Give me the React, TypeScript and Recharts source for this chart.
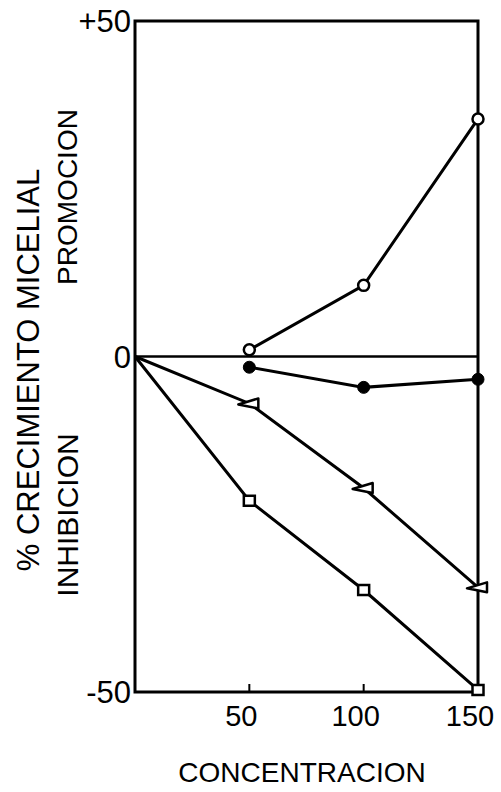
import React from 'react';
import { LineChart, Line, XAxis, YAxis, ReferenceLine, ReferenceArea, Label } from 'recharts';

const concentrations = [0, 50, 100, 150];
const openCircleSeries = [null, 1.0, 10.6, 35.4];
const filledCircleSeries = [null, -1.6, -4.6, -3.4];
const triangleSeries = [0, -7.0, -19.6, -34.4];
const squareSeries = [0, -21.5, -34.8, -49.7];
const xTicks = [50, 100, 150];
const yTicks = [-50, 0, 50];

const FONT = '"Liberation Sans", Arial, sans-serif';

const data = concentrations.map((c, i) => ({
  c,
  open: openCircleSeries[i],
  filled: filledCircleSeries[i],
  tri: triangleSeries[i],
  sq: squareSeries[i],
}));

const OpenCircle = (props: any) => {
  const { cx, cy, index } = props;
  if (cx == null || cy == null || props.value == null) return <g key={`oc-${index}`} />;
  return <circle key={`oc-${index}`} cx={cx} cy={cy} r={5.5} fill="#fff" stroke="#000" strokeWidth={2.5} />;
};

const FilledCircle = (props: any) => {
  const { cx, cy, index } = props;
  if (cx == null || cy == null || props.value == null) return <g key={`fc-${index}`} />;
  return <circle key={`fc-${index}`} cx={cx} cy={cy} r={6} fill="#000" stroke="#000" strokeWidth={1} />;
};

const Triangle = (props: any) => {
  const { cx, cy, index, payload } = props;
  if (cx == null || cy == null || !payload || payload.c === 0) return <g key={`tr-${index}`} />;
  return (
    <polygon
      key={`tr-${index}`}
      points={`${cx - 11},${cy + 1} ${cx + 9},${cy - 5} ${cx + 9},${cy + 5}`}
      fill="#fff"
      stroke="#000"
      strokeWidth={2.5}
      strokeLinejoin="round"
    />
  );
};

const Square = (props: any) => {
  const { cx, cy, index, payload } = props;
  if (cx == null || cy == null || !payload || payload.c === 0) return <g key={`sq-${index}`} />;
  return <rect key={`sq-${index}`} x={cx - 5.5} y={cy - 5} width={11} height={10} fill="#fff" stroke="#000" strokeWidth={2.5} />;
};

const renderYLabel = () => (
  <g fontFamily={FONT} fill="#000">
    <text x={28} y={370} transform="rotate(-90 28 370)" textAnchor="middle" dominantBaseline="central" fontSize={31} fill="#000">
      % CRECIMIENTO MICELIAL
    </text>
    <text x={67} y={197} transform="rotate(-90 67 197)" textAnchor="middle" dominantBaseline="central" fontSize={28} fill="#000">
      PROMOCION
    </text>
    <text x={67} y={515} transform="rotate(-90 67 515)" textAnchor="middle" dominantBaseline="central" fontSize={30} fill="#000">
      INHIBICION
    </text>
  </g>
);

const renderXLabel = () => (
  <text x={302} y={772} textAnchor="middle" dominantBaseline="central" fontSize={28} fontFamily={FONT} fill="#000">
    CONCENTRACION
  </text>
);

export default function App() {
  return (
    <div style={{ position: 'absolute', left: 0, top: 0, background: '#fff' }}>
      <LineChart width={501} height={792} data={data} margin={{ top: 21, right: 23, left: 0, bottom: 0 }}>
        <XAxis
          dataKey="c"
          type="number"
          domain={[0, 150]}
          ticks={xTicks}
          height={100}
          axisLine={false}
          tickLine={{ stroke: '#000', strokeWidth: 2 }}
          tickSize={-8}
          tickMargin={21}
          tick={{ fontSize: 29, fontFamily: FONT, fill: '#000', dx: -8 }}
          interval={0}
        >
          <Label content={renderXLabel} />
        </XAxis>
        <YAxis
          type="number"
          domain={[-50, 50]}
          ticks={yTicks}
          width={135}
          axisLine={false}
          tickLine={false}
          tickSize={0}
          tickMargin={4}
          tickFormatter={(v: number) => (v > 0 ? `+${v}` : `${v}`)}
          tick={{ fontSize: 31, fontFamily: FONT, fill: '#000' }}
          interval={0}
        >
          <Label content={renderYLabel} />
        </YAxis>
        <ReferenceArea x1={0} x2={150} y1={-50} y2={50} fill="none" fillOpacity={0} stroke="#000" strokeWidth={3} ifOverflow="visible" />
        <ReferenceLine y={0} stroke="#000" strokeWidth={2.5} />
        <Line dataKey="open" stroke="#000" strokeWidth={3} dot={OpenCircle} isAnimationActive={false} connectNulls={false} />
        <Line dataKey="filled" stroke="#000" strokeWidth={3} dot={FilledCircle} isAnimationActive={false} connectNulls={false} />
        <Line dataKey="tri" stroke="#000" strokeWidth={3} dot={Triangle} isAnimationActive={false} />
        <Line dataKey="sq" stroke="#000" strokeWidth={3} dot={Square} isAnimationActive={false} />
      </LineChart>
    </div>
  );
}
